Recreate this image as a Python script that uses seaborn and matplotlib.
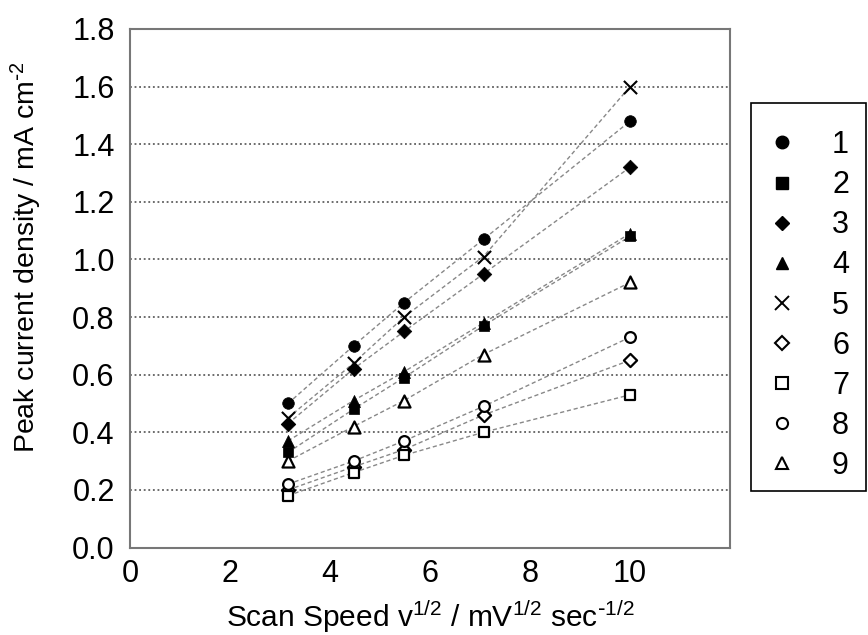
import matplotlib
matplotlib.use("Agg")
import matplotlib.pyplot as plt
from matplotlib.lines import Line2D
from matplotlib.patches import Rectangle
import seaborn as sns
import pandas as pd

# ---- data ----
scan_speed = [3.16, 4.47, 5.48, 7.07, 10.0]
series_names = ["1", "2", "3", "4", "5", "6", "7", "8", "9"]
s1 = [0.50, 0.70, 0.85, 1.07, 1.48]
s2 = [0.33, 0.48, 0.59, 0.77, 1.08]
s3 = [0.43, 0.62, 0.75, 0.95, 1.32]
s4 = [0.37, 0.51, 0.61, 0.78, 1.09]
s5 = [0.45, 0.64, 0.80, 1.01, 1.60]
s6 = [0.20, 0.28, 0.34, 0.46, 0.65]
s7 = [0.18, 0.26, 0.32, 0.40, 0.53]
s8 = [0.22, 0.30, 0.37, 0.49, 0.73]
s9 = [0.30, 0.42, 0.51, 0.67, 0.92]
values = [s1, s2, s3, s4, s5, s6, s7, s8, s9]
x_ticks = [0, 2, 4, 6, 8, 10]
y_ticks = [0.0, 0.2, 0.4, 0.6, 0.8, 1.0, 1.2, 1.4, 1.6, 1.8]

# marker styles: (marker, filled)
styles = [("o", True), ("s", True), ("D", True), ("^", True), ("x", True),
          ("D", False), ("s", False), ("o", False), ("^", False)]
msizes = [70, 60, 55, 75, 90, 45, 55, 60, 75]

rows = []
for name, vals in zip(series_names, values):
    for x, y in zip(scan_speed, vals):
        rows.append({"series": name, "x": x, "y": y})
df = pd.DataFrame(rows)

sns.set_theme(style="white")
plt.rcParams["font.family"] = ["Liberation Sans", "DejaVu Sans"]
plt.rcParams["mathtext.default"] = "regular"
plt.rcParams["text.color"] = "black"
plt.rcParams["axes.labelcolor"] = "black"

fig = plt.figure(figsize=(8.68, 6.35), dpi=100)
ax = fig.add_axes([130 / 868, 1 - 547.5 / 635, 600 / 868, (547.5 - 29) / 635])

# grid lines
for yt in y_ticks[1:-1]:
    ax.axhline(yt, color="#444444", lw=1.1, ls=(0, (1.2, 1.8)), zorder=1)

for i, name in enumerate(series_names):
    sub = df[df["series"] == name]
    sns.lineplot(data=sub, x="x", y="y", ax=ax, color="#888888", lw=1.0,
                 linestyle=(0, (3, 2)), zorder=2, legend=False)
    m, filled = styles[i]
    if m == "x":
        sns.scatterplot(data=sub, x="x", y="y", ax=ax, marker="x", s=msizes[i],
                        color="black", linewidth=1.5, zorder=3, legend=False)
    elif filled:
        sns.scatterplot(data=sub, x="x", y="y", ax=ax, marker=m, s=msizes[i],
                        color="black", edgecolor="black", linewidth=0.5,
                        zorder=3, legend=False)
    else:
        sns.scatterplot(data=sub, x="x", y="y", ax=ax, marker=m, s=msizes[i],
                        facecolor="white", edgecolor="black", linewidth=1.6,
                        zorder=3, legend=False)

ax.set_xlim(0, 12)
ax.set_ylim(0, 1.8)
ax.set_xticks(x_ticks)
ax.set_yticks(y_ticks)
ax.set_yticklabels([f"{v:.1f}" for v in y_ticks])
ax.tick_params(axis="both", labelsize=22, colors="#888888", labelcolor="black")
ax.tick_params(axis="x", direction="in", length=6, width=1, pad=8)
ax.tick_params(axis="y", direction="out", length=5, width=1, pad=6)

for sp in ax.spines.values():
    sp.set_color("#777777")
    sp.set_linewidth(1.5)

ax.set_xlabel(r"Scan Speed v$^{1/2}$ / mV$^{1/2}$ sec$^{\text{-}1/2}$", fontsize=21.5,
              color="black")
ax.set_ylabel(r"Peak current density / mA cm$^{\text{-}2}$", fontsize=20.5,
              color="black")
ax.xaxis.set_label_coords(0.5, -0.099)
ax.yaxis.set_label_coords(-0.143, 0.56)

handles = []
for i, name in enumerate(series_names):
    m, filled = styles[i]
    if m == "x":
        h = Line2D([], [], ls="none", marker="x", color="black", markersize=10, mew=1.4)
    elif filled:
        h = Line2D([], [], ls="none", marker=m, color="black",
                   markersize={"o": 9, "s": 8, "D": 7.5, "^": 9}[m])
    else:
        h = Line2D([], [], ls="none", marker=m, markerfacecolor="white",
                   markeredgecolor="black",
                   markersize={"o": 8, "s": 8, "D": 7, "^": 9}[m], mew=1.5)
    handles.append(h)

leg = fig.legend(handles, series_names, loc="center left",
                 bbox_to_anchor=(766.7 / 868, 1 - 305.5 / 635), fontsize=22,
                 frameon=False, labelspacing=0.33, handletextpad=1.14,
                 borderpad=0, handlelength=1.0, borderaxespad=0)

fig.patches.append(Rectangle((751 / 868, 1 - 491 / 635), (866 - 751) / 868,
                             (491 - 103) / 635, transform=fig.transFigure,
                             fill=False, edgecolor="black", linewidth=1.2))

fig.savefig("out.png", dpi=100, facecolor="white")
